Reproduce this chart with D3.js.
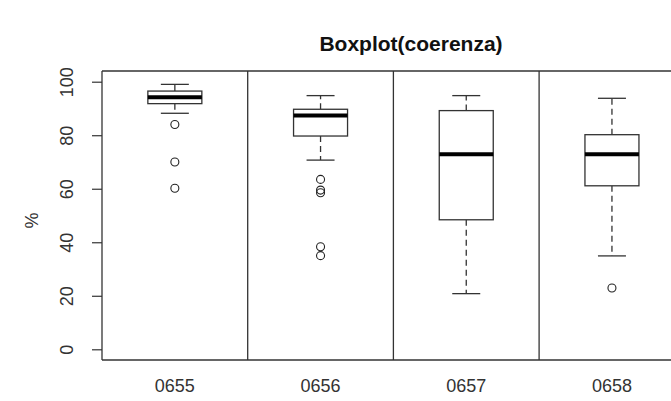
<!DOCTYPE html>
<html>
<head>
<meta charset="utf-8">
<script src="https://cdn.jsdelivr.net/npm/d3@7"></script>
<style>
  html, body { margin: 0; padding: 0; background: #fff; }
  svg { display: block; }
  text { font-family: "Liberation Sans", Arial, sans-serif; }
</style>
</head>
<body>
<svg id="chart" width="671" height="401"></svg>
<script>
const categories  = ["0655", "0656", "0657", "0658"];
const whiskerLow  = [88.2, 70.7, 20.8, 34.9];
const q1          = [91.8, 79.7, 48.4, 61.1];
const medians     = [94.2, 87.4, 72.9, 72.9];
const q3          = [96.5, 89.7, 89.2, 80.2];
const whiskerHigh = [99.0, 94.8, 94.8, 93.8];
const outliers    = [[84, 70, 60.2], [63.5, 59.5, 58.5, 38.3, 35], [], [22.9]];
const yTicks      = [0, 20, 40, 60, 80, 100];
const titleText   = "Boxplot(coerenza)";
const yLabel      = "%";

(function () {
const svg = d3.select("#chart");
const pLeft = 102, pTop = 71, pBottom = 360, step = 145.7;
const x = d3.scaleLinear().domain([0.5, categories.length + 0.5]).range([pLeft, pLeft + step * categories.length]);
const y = d3.scaleLinear().domain([-4, 104]).range([pBottom, pTop]);

const boxHalf = 27, capHalf = 14;
const lineCol = "#333";

svg.append("line").attr("x1", pLeft).attr("x2", 671).attr("y1", pTop).attr("y2", pTop)
  .attr("stroke", lineCol).attr("stroke-width", 1.3);
svg.append("line").attr("x1", pLeft).attr("x2", 671).attr("y1", pBottom).attr("y2", pBottom)
  .attr("stroke", lineCol).attr("stroke-width", 1.3);
svg.append("line").attr("x1", pLeft).attr("x2", pLeft).attr("y1", pTop).attr("y2", pBottom)
  .attr("stroke", lineCol).attr("stroke-width", 1.3);
for (let i = 1; i < categories.length; i++) {
  svg.append("line").attr("x1", x(i + 0.5)).attr("x2", x(i + 0.5)).attr("y1", pTop).attr("y2", pBottom)
    .attr("stroke", lineCol).attr("stroke-width", 1.3);
}

const yAxis = d3.axisLeft(y).tickValues(yTicks).tickSize(10).tickPadding(12).tickFormat(d3.format("d"));
const ga = svg.append("g").attr("transform", `translate(${pLeft},0)`).call(yAxis);
ga.select(".domain").remove();
ga.selectAll(".tick line").attr("stroke", lineCol).attr("stroke-width", 1.2);
ga.selectAll(".tick text")
  .attr("x", null)
  .attr("text-anchor", "middle")
  .attr("transform", "translate(-35,0) rotate(-90)")
  .attr("dy", "0.35em")
  .attr("fill", "#333")
  .style("font-size", "18px")
  .style("font-family", "'Liberation Sans', Arial, sans-serif");

svg.append("text").attr("transform", `translate(38,${(pTop + pBottom) / 2 + 5}) rotate(-90)`)
  .attr("text-anchor", "middle").attr("fill", "#333")
  .style("font-size", "18px").text(yLabel);

categories.forEach((c, i) => {
  svg.append("text").attr("x", x(i + 1)).attr("y", 392).attr("text-anchor", "middle")
    .attr("fill", "#333").style("font-size", "18px").text(c);
});

svg.append("text").attr("x", 411).attr("y", 51).attr("text-anchor", "middle")
  .attr("fill", "#111").style("font-size", "21px").style("font-weight", "bold").text(titleText);

categories.forEach((c, i) => {
  const cx = x(i + 1);
  const g = svg.append("g");
  g.append("line").attr("x1", cx).attr("x2", cx).attr("y1", y(q3[i])).attr("y2", y(whiskerHigh[i]))
    .attr("stroke", lineCol).attr("stroke-width", 1.3).attr("stroke-dasharray", "6,4");
  g.append("line").attr("x1", cx).attr("x2", cx).attr("y1", y(q1[i])).attr("y2", y(whiskerLow[i]))
    .attr("stroke", lineCol).attr("stroke-width", 1.3).attr("stroke-dasharray", "6,4");
  [whiskerHigh[i], whiskerLow[i]].forEach(v => {
    g.append("line").attr("x1", cx - capHalf).attr("x2", cx + capHalf).attr("y1", y(v)).attr("y2", y(v))
      .attr("stroke", lineCol).attr("stroke-width", 1.3);
  });
  g.append("rect").attr("x", cx - boxHalf).attr("y", y(q3[i])).attr("width", boxHalf * 2)
    .attr("height", y(q1[i]) - y(q3[i])).attr("fill", "#fff")
    .attr("stroke", lineCol).attr("stroke-width", 1.3);
  g.append("line").attr("x1", cx - boxHalf).attr("x2", cx + boxHalf).attr("y1", y(medians[i])).attr("y2", y(medians[i]))
    .attr("stroke", "#000").attr("stroke-width", 4);
  outliers[i].forEach(v => {
    g.append("circle").attr("cx", cx).attr("cy", y(v)).attr("r", 4)
      .attr("fill", "none").attr("stroke", "#222").attr("stroke-width", 1.1);
  });
});
})();
</script>
</body>
</html>
